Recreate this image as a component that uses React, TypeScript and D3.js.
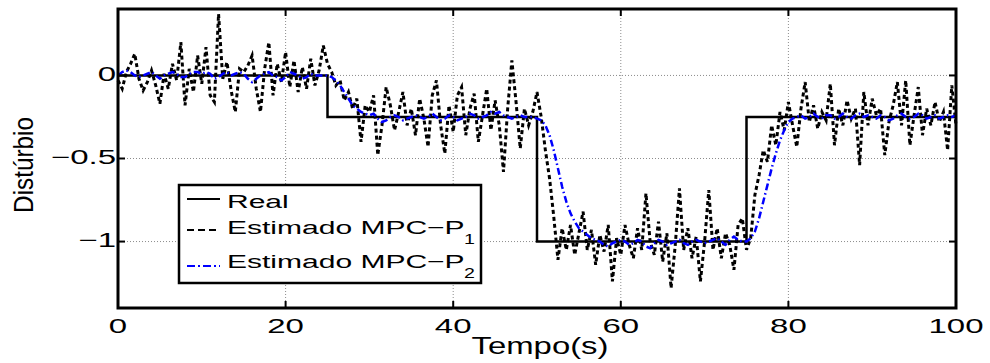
import React from "react";
import * as d3 from "d3";

// tempo (s) e valores
const tempo = d3.range(0, 100.001, 0.5);

const realT = [0, 25, 25, 50, 50, 75, 75, 100];
const realV = [0, 0, -0.25, -0.25, -1, -1, -0.25, -0.25];

// Estimado MPC-P1 (passo 0.5 s)
const estP1 = [
  -0.03, -0.08, 0.02, 0.07, 0.13, -0.02, -0.09, -0.04, 0.03, -0.06,
  -0.17, 0.01, -0.08, 0.07, -0.03, 0.2, -0.18, 0.04, -0.1, 0.12,
  -0.05, 0.17, -0.12, -0.16, 0.37, -0.02, 0.08, -0.09, -0.22, 0.04,
  0.02, 0.06, 0.12, -0.08, -0.22, 0.04, 0.2, -0.12, 0.07, -0.04,
  0.14, -0.07, 0.09, -0.1, 0.05, -0.08, 0.1, -0.06, 0.03, 0.18,
  0.07, 0.02, -0.06, -0.03, -0.15, -0.1, -0.2, -0.14, -0.4, -0.18,
  -0.22, -0.12, -0.48, -0.3, -0.07, -0.18, -0.33, -0.22, -0.1, -0.3,
  -0.2, -0.36, -0.14, -0.26, -0.43, -0.12, -0.03, -0.3, -0.47, -0.18,
  -0.34, -0.12, -0.07, -0.36, -0.2, -0.11, -0.4, -0.24, -0.08, -0.33,
  -0.15, -0.3, -0.58, -0.2, 0.09, -0.16, -0.44, -0.2, -0.3, -0.22,
  -0.1, -0.25, -0.45, -0.62, -0.85, -1.11, -0.92, -1.05, -0.9, -1.08,
  -0.95, -0.82, -1.05, -0.93, -1.14, -0.96, -1.06, -0.9, -1.24, -0.98,
  -1.08, -0.9, -1.02, -1.1, -0.92, -1.05, -0.71, -1.0, -1.08, -0.88,
  -1.12, -0.95, -1.28, -1.02, -0.68, -1.05, -0.92, -1.1, -0.97, -1.24,
  -1.0, -0.69, -1.05, -0.92, -1.1, -0.95, -1.02, -1.17, -0.9, -0.86,
  -1.05, -0.98, -0.72, -0.6, -0.45, -0.52, -0.3, -0.42, -0.22, -0.33,
  -0.16, -0.3, -0.43, -0.2, -0.04, -0.28, -0.18, -0.32, -0.22, -0.27,
  -0.05, -0.42, -0.2, -0.3, -0.15, -0.26, -0.2, -0.54, -0.1, -0.3,
  -0.14, -0.24, -0.2, -0.48, -0.28, -0.18, -0.04, -0.3, -0.03, -0.42,
  -0.24, -0.07, -0.36, -0.2, -0.3, -0.16, -0.28, -0.22, -0.45, -0.06,
  -0.3,
];

// Estimado MPC-P2 (passo 0.5 s)
const estP2 = [
  0.0, 0.02, 0.03, 0.02, 0.0, -0.01, 0.0, 0.01, 0.02, 0.0,
  -0.02, 0.0, 0.01, 0.02, 0.01, -0.01, -0.01, 0.01, 0.02, 0.02,
  0.01, 0.02, 0.01, -0.02, -0.01, 0.01, 0.02, 0.0, 0.01, 0.02,
  0.01, -0.02, -0.04, -0.02, 0.0, 0.01, 0.02, 0.0, -0.01, -0.03,
  -0.01, 0.02, 0.01, 0.0, -0.02, -0.01, 0.01, 0.0, 0.0, 0.0,
  0.0, -0.01, -0.03, -0.06, -0.1, -0.14, -0.18, -0.2, -0.22, -0.23,
  -0.24, -0.23, -0.26, -0.28, -0.27, -0.25, -0.24, -0.25, -0.27, -0.26,
  -0.25, -0.24, -0.25, -0.26, -0.25, -0.23, -0.25, -0.27, -0.26, -0.24,
  -0.25, -0.27, -0.26, -0.25, -0.23, -0.24, -0.26, -0.25, -0.24, -0.22,
  -0.23, -0.22, -0.24, -0.25, -0.26, -0.25, -0.24, -0.25, -0.25, -0.25,
  -0.26, -0.27, -0.3, -0.36, -0.45, -0.56, -0.67, -0.76, -0.83, -0.88,
  -0.92, -0.94, -0.96, -0.98, -0.99, -1.0, -1.02, -1.03, -1.01, -1.0,
  -0.99, -1.0, -1.02, -1.01, -0.99, -1.0, -1.03, -1.04, -1.01, -0.99,
  -1.0, -1.02, -1.01, -1.0, -0.99, -1.01, -1.02, -1.0, -0.99, -1.0,
  -1.01, -1.0, -0.99, -0.98, -1.0, -1.02, -0.99, -0.97, -0.99, -1.0,
  -1.0, -0.98, -0.94, -0.86, -0.76, -0.66, -0.56, -0.47, -0.39, -0.33,
  -0.28, -0.26, -0.25, -0.24, -0.26, -0.25, -0.23, -0.25, -0.26, -0.24,
  -0.24, -0.26, -0.25, -0.23, -0.25, -0.26, -0.24, -0.23, -0.25, -0.24,
  -0.25, -0.26, -0.24, -0.25, -0.27, -0.26, -0.24, -0.23, -0.25, -0.26,
  -0.25, -0.23, -0.24, -0.26, -0.25, -0.24, -0.26, -0.25, -0.24, -0.25,
  -0.24,
];

const xTicks = [0, 20, 40, 60, 80, 100];
const yTicks = [0, -0.5, -1];
const yTickLabels = ["0", "\u22120.5", "\u22121"];
const legendLabels = ["Real", "Estimado MPC\u2212P", "Estimado MPC\u2212P"];
const legendSubs = ["", "1", "2"];

const W = 990;
const H = 363;
const m = { left: 118, right: 956, top: 9, bottom: 308 };
const FONT = "'Liberation Sans', Arial, Helvetica, sans-serif";

// texto esticado na horizontal, como no original
const SText = ({ x, y, sx, size, anchor = "start", children }: any) => (
  <text
    transform={`translate(${x},${y}) scale(${sx},1)`}
    fontSize={size}
    fontFamily={FONT}
    textAnchor={anchor}
    fill="#000"
  >
    {children}
  </text>
);

export default function App() {
  const x = d3.scaleLinear().domain([0, 100]).range([m.left, m.right]);
  const y = d3.scaleLinear().domain([-1.4, 0.4]).range([m.bottom, m.top]);

  const line = d3
    .line<[number, number]>()
    .x((d) => x(d[0]))
    .y((d) => y(d[1]));

  const realPath = line(realT.map((t, i) => [t, realV[i]]));
  const p1Path = line(tempo.map((t, i) => [t, estP1[i]]));
  const p2Path = line(tempo.map((t, i) => [t, estP2[i]]));

  const legX = 179;
  const legY = 185;
  const legRows = [199, 230, 266];
  const legBase = [208, 234, 268];

  return (
    <svg
      width={W}
      height={H}
      style={{ position: "absolute", left: 0, top: 0, background: "#fff" }}
    >
      <rect width={W} height={H} fill="#fff" />
      {/* grade */}
      <g stroke="#8c8c8c" strokeWidth={1} strokeDasharray="1,2">
        {xTicks.slice(1, -1).map((t) => (
          <line key={"gx" + t} x1={x(t)} x2={x(t)} y1={m.top} y2={m.bottom} />
        ))}
        {yTicks.map((t) => (
          <line key={"gy" + t} x1={m.left} x2={m.right} y1={y(t)} y2={y(t)} />
        ))}
      </g>

      {/* series */}
      <path d={realPath!} fill="none" stroke="#000" strokeWidth={2.5} />
      <path
        d={p1Path!}
        fill="none"
        stroke="#000"
        strokeWidth={3}
        strokeDasharray="4,3"
      />
      <path
        d={p2Path!}
        fill="none"
        stroke="#0000ff"
        strokeWidth={2.5}
        strokeDasharray="7,3,1.5,3"
      />

      {/* ticks */}
      <g stroke="#000" strokeWidth={2}>
        {xTicks.map((t) => (
          <g key={"tx" + t}>
            <line x1={x(t)} x2={x(t)} y1={m.bottom} y2={m.bottom - 7} />
            <line x1={x(t)} x2={x(t)} y1={m.top} y2={m.top + 7} />
          </g>
        ))}
        {yTicks.map((t) => (
          <g key={"ty" + t}>
            <line x1={m.left} x2={m.left + 7} y1={y(t)} y2={y(t)} />
            <line x1={m.right} x2={m.right - 7} y1={y(t)} y2={y(t)} />
          </g>
        ))}
      </g>
      <rect
        x={m.left}
        y={m.top}
        width={m.right - m.left}
        height={m.bottom - m.top}
        fill="none"
        stroke="#000"
        strokeWidth={3}
      />

      {/* rotulos */}
      {xTicks.map((t) => (
        <SText key={"lx" + t} x={x(t)} y={333} sx={1.65} size={20} anchor="middle">
          {t}
        </SText>
      ))}
      {yTicks.map((t, i) => (
        <SText key={"ly" + t} x={116} y={y(t) + 5.5} sx={1.65} size={20} anchor="end">
          {yTickLabels[i]}
        </SText>
      ))}
      <SText x={540} y={354} sx={1.43} size={23} anchor="middle">
        Tempo(s)
      </SText>
      <text
        transform="translate(33,165) rotate(-90) scale(0.9,1)"
        fontSize={27}
        fontFamily={FONT}
        textAnchor="middle"
      >
        Distúrbio
      </text>

      {/* legenda */}
      <rect
        x={legX}
        y={legY}
        width={481 - legX}
        height={283 - legY}
        fill="#fff"
        stroke="#000"
        strokeWidth={2.5}
      />
      <line x1={187} x2={220} y1={legRows[0]} y2={legRows[0]} stroke="#000" strokeWidth={2} />
      <line
        x1={187}
        x2={220}
        y1={legRows[1]}
        y2={legRows[1]}
        stroke="#000"
        strokeWidth={2}
        strokeDasharray="7,4"
      />
      <line
        x1={187}
        x2={220}
        y1={legRows[2]}
        y2={legRows[2]}
        stroke="#0000ff"
        strokeWidth={2}
        strokeDasharray="8,3,2,3"
      />
      {legendLabels.map((l, i) => (
        <g key={"lg" + i}>
          <SText x={227} y={legBase[i]} sx={1.58} size={19}>
            {l}
          </SText>
          {legendSubs[i] && (
            <SText x={464} y={legBase[i] + 10} sx={1.4} size={14}>
              {legendSubs[i]}
            </SText>
          )}
        </g>
      ))}
    </svg>
  );
}
